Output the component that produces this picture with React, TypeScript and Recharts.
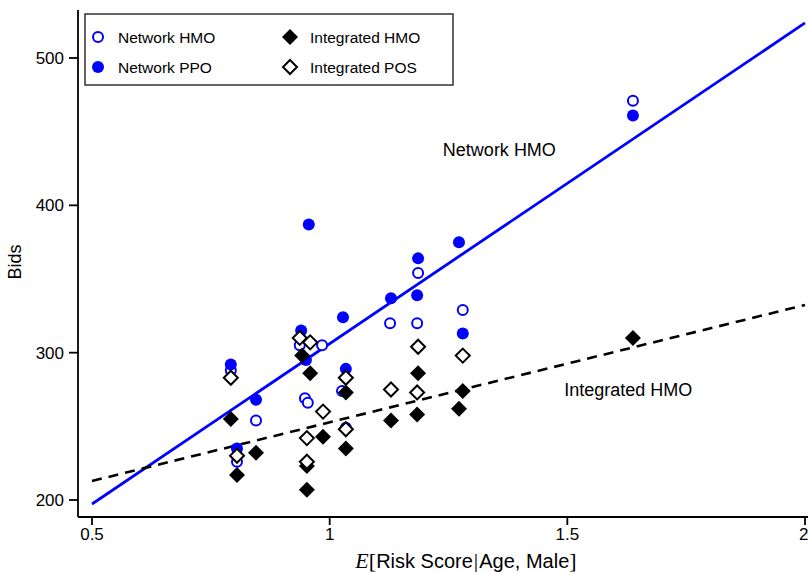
import { ScatterChart, Scatter, XAxis, YAxis, ReferenceDot } from "recharts";

// [risk score, bid]
const networkHmo = [
  [1.638, 471], [1.186, 354], [1.184, 320], [1.127, 320], [1.28, 329],
  [0.984, 305], [0.937, 305], [0.948, 269], [0.954, 266], [0.845, 254],
  [0.805, 226], [0.792, 288], [1.034, 249], [1.026, 274],
];
const networkPpo = [
  [1.638, 461], [1.272, 375], [1.186, 364], [1.184, 339], [1.129, 337],
  [1.028, 324], [0.956, 387], [0.94, 315], [0.95, 295], [1.28, 313],
  [1.034, 289], [0.792, 292], [0.845, 268], [0.805, 235],
];
const integratedHmo = [
  [1.638, 310], [0.792, 255], [0.845, 232], [0.805, 217], [0.942, 298],
  [0.959, 286], [0.986, 243], [0.952, 223], [0.952, 207], [1.034, 273],
  [1.034, 235], [1.129, 254], [1.184, 258], [1.186, 286], [1.272, 262],
  [1.28, 274],
];
const integratedPos = [
  [0.792, 283], [0.805, 230], [0.937, 310], [0.959, 307], [0.986, 260],
  [0.952, 242], [0.952, 226], [1.034, 283], [1.034, 248], [1.129, 275],
  [1.184, 273], [1.186, 304], [1.28, 298],
];
const networkFit = [[0.5, 197.3], [2, 523.8]];
const integratedFit = [[0.5, 212.9], [2, 332.4]];

const xTicks = [0.5, 1, 1.5, 2];
const yTicks = [200, 300, 400, 500];

const BLUE = "#0000ff";
const FONT = "'Liberation Sans', Arial, sans-serif";
const SERIF = "'Liberation Serif', serif";

const pts = (arr: number[][]) => arr.map(([x, y]) => ({ x, y }));

const OpenCircle = (p: any) => (
  <circle cx={p.cx} cy={p.cy} r={5} fill="white" stroke={BLUE} strokeWidth={2} />
);
const FilledCircle = (p: any) => <circle cx={p.cx} cy={p.cy} r={6} fill={BLUE} />;
const FilledDiamond = (p: any) => (
  <path d={`M${p.cx},${p.cy - 8}L${p.cx + 8},${p.cy}L${p.cx},${p.cy + 8}L${p.cx - 8},${p.cy}Z`} fill="black" />
);
const OpenDiamond = (p: any) => (
  <path
    d={`M${p.cx},${p.cy - 7}L${p.cx + 7},${p.cy}L${p.cx},${p.cy + 7}L${p.cx - 7},${p.cy}Z`}
    fill="white"
    stroke="black"
    strokeWidth={2}
  />
);
const NoDot = () => <g />;

function LegendBox() {
  const rows = [
    { x: 98, y: 37, label: "Network HMO", kind: "oc" },
    { x: 98, y: 67, label: "Network PPO", kind: "fc" },
    { x: 290, y: 37, label: "Integrated HMO", kind: "fd" },
    { x: 290, y: 67, label: "Integrated POS", kind: "od" },
  ];
  return (
    <svg width={808} height={100} style={{ position: "absolute", left: 0, top: 0 }}>
      <rect x={85} y={14} width={368} height={71} fill="white" stroke="#333" strokeWidth={1.5} />
      {rows.map((r) => (
        <g key={r.label}>
          {r.kind === "oc" && <OpenCircle cx={r.x} cy={r.y} />}
          {r.kind === "fc" && <FilledCircle cx={r.x} cy={r.y} />}
          {r.kind === "fd" && <FilledDiamond cx={r.x} cy={r.y} />}
          {r.kind === "od" && <OpenDiamond cx={r.x} cy={r.y} />}
          <text x={r.x + 20} y={r.y + 5.5} fontFamily={FONT} fontSize={15.5} fill="black">
            {r.label}
          </text>
        </g>
      ))}
    </svg>
  );
}

export default function App() {
  return (
    <div style={{ position: "relative", width: 808, height: 572, background: "white" }}>
      <style>{`body{margin:0}`}</style>
      <ScatterChart width={808} height={572} margin={{ top: 10, right: 0, bottom: 0, left: 0 }}>
        <XAxis
          type="number"
          dataKey="x"
          domain={[0.4705, 2.0063]}
          ticks={xTicks}
          tickFormatter={(v: number) => String(v)}
          height={55}
          tickSize={8}
          tickMargin={3}
          tick={{ fill: "black", fontSize: 17, fontFamily: FONT }}
          stroke="black"
          strokeWidth={1.8}
          allowDataOverflow
        />
        <YAxis
          type="number"
          dataKey="y"
          domain={[188.46, 532.58]}
          ticks={yTicks}
          width={78}
          tickSize={9}
          tickMargin={5}
          tick={{ fill: "black", fontSize: 17, fontFamily: FONT }}
          stroke="black"
          strokeWidth={1.8}
          allowDataOverflow
        />
        <Scatter
          data={pts(networkFit)}
          line={{ stroke: BLUE, strokeWidth: 2.8 }}
          shape={NoDot}
          isAnimationActive={false}
        />
        <Scatter
          data={pts(integratedFit)}
          line={{ stroke: "black", strokeWidth: 2.6, strokeDasharray: "10 7" }}
          shape={NoDot}
          isAnimationActive={false}
        />
        <Scatter data={pts(networkHmo)} shape={OpenCircle} isAnimationActive={false} />
        <Scatter data={pts(networkPpo)} shape={FilledCircle} isAnimationActive={false} />
        <Scatter data={pts(integratedHmo)} shape={FilledDiamond} isAnimationActive={false} />
        <Scatter data={pts(integratedPos)} shape={OpenDiamond} isAnimationActive={false} />
        <ReferenceDot
          x={1.357}
          y={437.6}
          r={0}
          stroke="none"
          label={{ value: "Network HMO", position: "center", fontSize: 18, fontFamily: FONT, fill: "black" }}
        />
        <ReferenceDot
          x={1.628}
          y={274.7}
          r={0}
          stroke="none"
          label={{ value: "Integrated HMO", position: "center", fontSize: 18, fontFamily: FONT, fill: "black" }}
        />
      </ScatterChart>
      <LegendBox />
      <svg width={808} height={572} style={{ position: "absolute", left: 0, top: 0, pointerEvents: "none" }}>
        <text
          transform="translate(21,262) rotate(-90)"
          textAnchor="middle"
          fontFamily={FONT}
          fontSize={18}
          fill="black"
        >
          Bids
        </text>
        <text x={466} y={568} textAnchor="middle" fontFamily={FONT} fontSize={20} fill="black">
          <tspan fontFamily={SERIF} fontStyle="italic" fontSize={22}>E</tspan>
          <tspan fontFamily={SERIF} fontSize={22}>[</tspan>
          Risk Score
          <tspan fontFamily={SERIF} fontSize={22} dx={1}>|</tspan>
          <tspan dx={1}>Age, Male</tspan>
          <tspan fontFamily={SERIF} fontSize={22}>]</tspan>
        </text>
      </svg>
    </div>
  );
}
